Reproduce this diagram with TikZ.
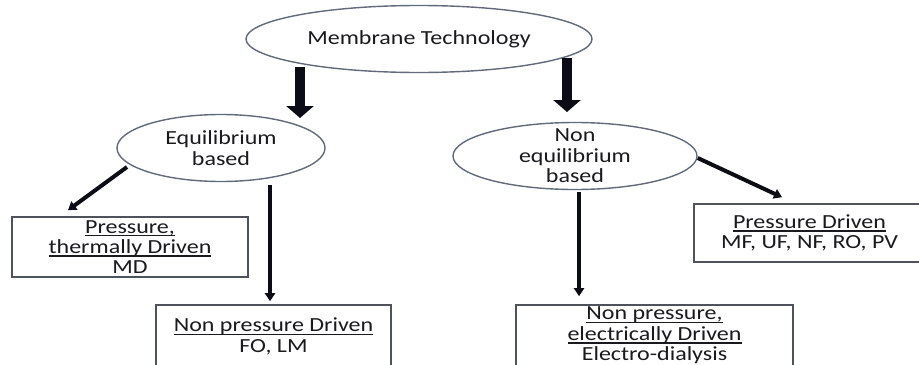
\documentclass[tikz,border=0pt]{standalone}
\usepackage{fontspec}
\setmainfont{Carlito}[FakeStretch=1.2]
\usetikzlibrary{shapes.geometric,arrows.meta,calc}

\definecolor{ovalline}{RGB}{96,106,124}
\definecolor{boxline}{RGB}{78,82,92}
\definecolor{arrowink}{RGB}{12,12,22}
\definecolor{textink}{RGB}{26,26,30}

% underline that runs just under the baseline, through descenders
\newcommand{\underlined}[1]{\setbox0\hbox{#1}\rlap{\rule[-1.7pt]{\wd0}{0.75pt}}\box0}

\begin{document}
\begin{tikzpicture}[x=0.5pt,y=-0.5pt]
			\tikzset{
				oval/.style={ellipse, draw=ovalline, line width=0.7pt, inner sep=0pt, minimum height=33.5pt},
				ovaltext/.style={align=center, inner sep=0pt, text=textink, font=\fontsize{10}{10.2}\selectfont},
				sortbox/.style={rectangle, draw=boxline, line width=0.8pt, inner sep=0pt, align=center,
						text=textink, font=\fontsize{10}{10.2}\selectfont},
				fatarrow/.style={arrowink, line width=5pt, -{Triangle[width=13.5pt,length=6pt]}},
				slimarrow/.style={arrowink, line width=2pt, -{Triangle[width=5pt,length=4pt]}},
			}
			\useasboundingbox[fill=white] (0,0) rectangle (919,364);

			% the three ovals
			\node[oval, minimum width=173pt, text=textink, font=\fontsize{10}{10.2}\selectfont] (tech) at (419,39) {Membrane Technology};
			\node[oval, minimum width=104pt] (eq) at (221,148) {};
			\node[ovaltext] at (eq) {Equilibrium\\based};
			\node[oval, minimum width=122pt] (noneq) at (575,156) {};
			\node[ovaltext] at (noneq) {Non\\equilibrium\\based};

			% the four kinds of process
			\node[sortbox, minimum width=118pt, minimum height=30pt] (ptbox) at (130,247)
			{\underlined{Pressure,}\\\underlined{thermally Driven}\\MD};
			\node[sortbox, minimum width=117.5pt, minimum height=31.5pt] (npbox) at (273.5,336.5)
			{\underlined{Non pressure Driven}\\FO, LM};
			\node[sortbox, minimum width=115.5pt, minimum height=29pt] (pdbox) at (809.5,233)
			{\underlined{Pressure Driven}\\MF, UF, NF, RO, PV};
			\node[sortbox, minimum width=138.5pt, minimum height=30.5pt] (edbox) at (654.5,335.5)
			{\underlined{Non pressure,}\\\underlined{electrically Driven}\\Electro-dialysis};

			% connectors
			\draw[fatarrow] ($(tech)+(-119,28)$) -- ($(eq)+(79,-30)$);
			\draw[fatarrow] ($(tech)+(148,19)$) -- ($(noneq)+(-8,-44)$);
			\draw[slimarrow] ($(eq)+(-94,19)$) -- ($(ptbox.north)+(-62,-6)$);
			\draw[slimarrow, line width=1.7pt] ($(eq)+(49,37)$) -- ($(npbox.north)+(-3.5,-3)$);
			\draw[slimarrow] ($(noneq.east)+(0,2)$) -- ($(pdbox.north)+(-27.5,-6)$);
			\draw[slimarrow, line width=1.7pt] ($(noneq)+(4,36)$) -- ($(edbox.north)+(-75.5,-8)$);
		\end{tikzpicture}
\end{document}
